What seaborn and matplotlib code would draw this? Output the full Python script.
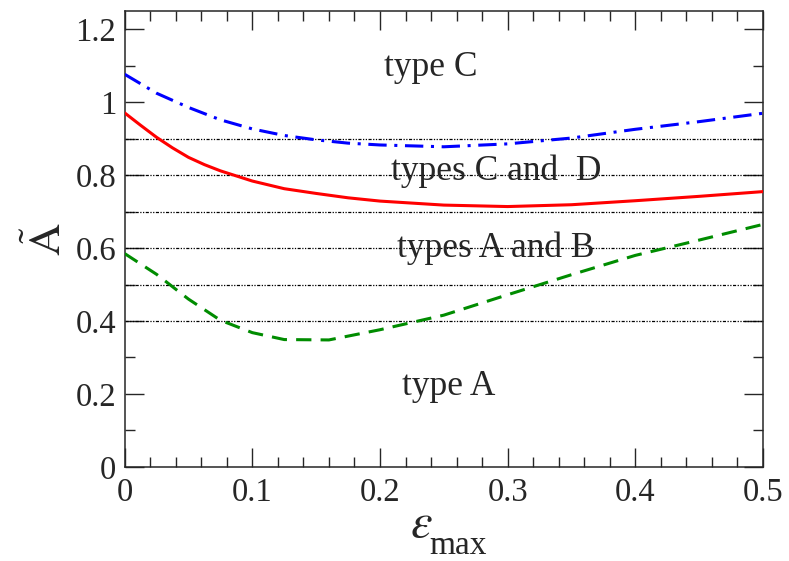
import numpy as np
import pandas as pd
import matplotlib
matplotlib.use('Agg')
import matplotlib.pyplot as plt
import seaborn as sns

# ---- data ----
eps_red = [0, 0.0125, 0.025, 0.0375, 0.05, 0.0625, 0.075, 0.1, 0.125, 0.15, 0.175, 0.2,
           0.25, 0.3, 0.35, 0.4, 0.45, 0.5]
a_red = [0.971, 0.937, 0.904, 0.875, 0.849, 0.829, 0.812, 0.784, 0.763, 0.750, 0.738, 0.729,
         0.718, 0.714, 0.719, 0.73, 0.742, 0.755]

eps_blue = [0, 0.025, 0.05, 0.075, 0.1, 0.125, 0.15, 0.175, 0.2, 0.25, 0.3, 0.35, 0.4, 0.45, 0.5]
a_blue = [1.077, 1.025, 0.986, 0.952, 0.927, 0.909, 0.897, 0.888, 0.883, 0.878, 0.886, 0.902,
          0.926, 0.947, 0.97]

eps_green = [0, 0.025, 0.05, 0.075, 0.1, 0.125, 0.16, 0.2, 0.25, 0.3, 0.35, 0.4, 0.45, 0.5]
a_green = [0.585, 0.528, 0.46, 0.402, 0.368, 0.349, 0.348, 0.376, 0.416, 0.472, 0.527, 0.58,
           0.622, 0.665]

boundaries = [0.4, 0.5, 0.6, 0.7, 0.8, 0.9]

region_labels = ['type C', 'types C and  D', 'types A and B', 'type A']
label_x = [0.24, 0.291, 0.291, 0.254]
label_y = [1.095, 0.81, 0.60, 0.22]

# ---- style ----
sns.set_style('ticks', {'xtick.direction': 'in', 'ytick.direction': 'in'})
plt.rcParams['font.family'] = ['Liberation Serif', 'DejaVu Serif']
plt.rcParams['mathtext.fontset'] = 'stix'

df = pd.concat([
    pd.DataFrame({'eps': eps_red, 'A': a_red, 'curve': 'red'}),
    pd.DataFrame({'eps': eps_blue, 'A': a_blue, 'curve': 'blue'}),
    pd.DataFrame({'eps': eps_green, 'A': a_green, 'curve': 'green'}),
])

fig = plt.figure(figsize=(7.89, 5.61), dpi=100)
ax = fig.add_axes([0.158, 0.168, 0.809, 0.812])

for yb in boundaries:
    ax.axhline(yb, color='black', lw=0.9, dashes=(2.5, 1.2, 1, 1.2, 1, 1.2), zorder=1)

sns.lineplot(data=df, x='eps', y='A', hue='curve', style='curve',
             palette={'red': '#ff0000', 'blue': '#0000ff', 'green': '#008c00'},
             dashes={'red': '', 'blue': (6, 2.5, 1, 2.5), 'green': (5, 3)},
             linewidth=2.2, legend=False, ax=ax, zorder=3)

for txt, tx, ty in zip(region_labels, label_x, label_y):
    ax.text(tx, ty, txt, ha='center', va='center', fontsize=25.5, zorder=4)

ax.set_xlim(0, 0.5)
ax.set_ylim(0, 1.25)
ax.set_xticks([0, 0.1, 0.2, 0.3, 0.4, 0.5])
ax.set_xticklabels(['0', '0.1', '0.2', '0.3', '0.4', '0.5'])
ax.set_yticks([0, 0.2, 0.4, 0.6, 0.8, 1.0, 1.2])
ax.set_yticklabels(['0', '0.2', '0.4', '0.6', '0.8', '1', '1.2'])
ax.set_xticks(np.arange(0, 0.501, 0.02), minor=True)
ax.set_yticks(np.arange(0, 1.25, 0.1), minor=True)
ax.tick_params(which='both', direction='in', top=True, right=True, labelsize=23.5, width=1.0)
ax.tick_params(which='major', length=14)
ax.tick_params(which='minor', length=7.5)
ax.tick_params(axis='x', pad=8)
ax.tick_params(axis='y', pad=6)
for sp in ax.spines.values():
    sp.set_linewidth(1.1)
ax.set_xlabel('')
ax.set_ylabel(r'$\tilde{\mathrm{A}}$', fontsize=32, labelpad=4)

# x label: big epsilon with a lowered "max" subscript
fig.text(0.534, 0.043, r'$\varepsilon$', fontsize=35, ha='center', va='baseline')
fig.text(0.5435, 0.013, 'max', fontsize=24, ha='left', va='baseline')

fig.savefig('out.png', dpi=100)
